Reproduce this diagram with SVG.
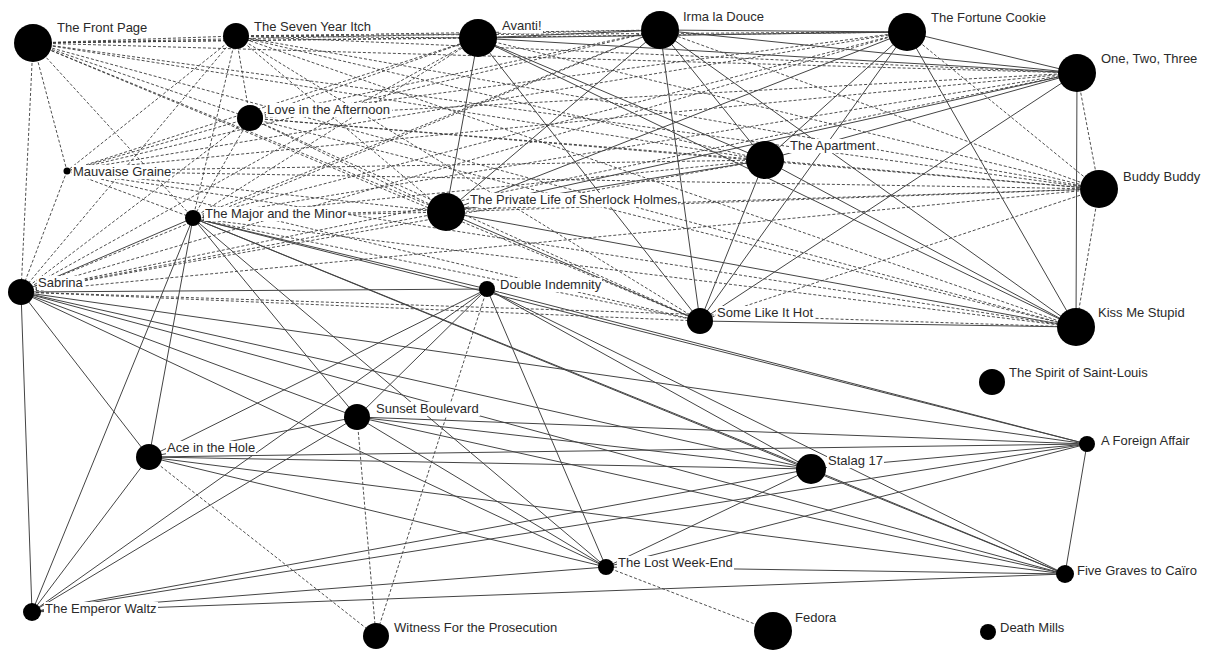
<svg xmlns="http://www.w3.org/2000/svg" width="1210" height="650" viewBox="0 0 1210 650">
<style>
.bg{fill:#ffffff}
.d line{stroke:#3a3a3a;stroke-width:0.9;stroke-dasharray:3 2;fill:none}
.s line{stroke:#444;stroke-width:1;fill:none}
.n circle{fill:#000}
.n rect{fill:#ffffff}
.n text{font-family:"Liberation Sans",Arial,sans-serif;font-size:13px;fill:#2a2a2a}
</style>
<rect class="bg" x="0" y="0" width="1210" height="650"/>
<g id="connectors">
<g class="d">
<line x1="33" y1="43" x2="236" y2="36"/><line x1="33" y1="43" x2="250" y2="118"/><line x1="33" y1="43" x2="67" y2="171"/><line x1="33" y1="43" x2="193" y2="218"/><line x1="33" y1="43" x2="21" y2="292"/><line x1="33" y1="43" x2="1099" y2="189"/>
<line x1="236" y1="36" x2="250" y2="118"/><line x1="236" y1="36" x2="67" y2="171"/><line x1="236" y1="36" x2="193" y2="218"/><line x1="236" y1="36" x2="21" y2="292"/><line x1="236" y1="36" x2="1099" y2="189"/>
<line x1="250" y1="118" x2="67" y2="171"/><line x1="250" y1="118" x2="193" y2="218"/><line x1="250" y1="118" x2="21" y2="292"/><line x1="250" y1="118" x2="1099" y2="189"/>
<line x1="67" y1="171" x2="193" y2="218"/><line x1="67" y1="171" x2="21" y2="292"/><line x1="67" y1="171" x2="1099" y2="189"/>
<line x1="193" y1="218" x2="1099" y2="189"/><line x1="21" y1="292" x2="1099" y2="189"/>
<line x1="33" y1="43" x2="478" y2="38"/><line x1="33" y1="43" x2="660" y2="30"/><line x1="33" y1="43" x2="907" y2="32"/><line x1="33" y1="43" x2="1077" y2="73"/><line x1="33" y1="43" x2="765" y2="160"/><line x1="33" y1="43" x2="446" y2="212"/><line x1="33" y1="43" x2="700" y2="321"/><line x1="33" y1="43" x2="1076" y2="327"/>
<line x1="236" y1="36" x2="478" y2="38"/><line x1="236" y1="36" x2="660" y2="30"/><line x1="236" y1="36" x2="907" y2="32"/><line x1="236" y1="36" x2="1077" y2="73"/><line x1="236" y1="36" x2="765" y2="160"/><line x1="236" y1="36" x2="446" y2="212"/><line x1="236" y1="36" x2="700" y2="321"/><line x1="236" y1="36" x2="1076" y2="327"/>
<line x1="250" y1="118" x2="478" y2="38"/><line x1="250" y1="118" x2="660" y2="30"/><line x1="250" y1="118" x2="907" y2="32"/><line x1="250" y1="118" x2="1077" y2="73"/><line x1="250" y1="118" x2="765" y2="160"/><line x1="250" y1="118" x2="446" y2="212"/><line x1="250" y1="118" x2="700" y2="321"/><line x1="250" y1="118" x2="1076" y2="327"/>
<line x1="67" y1="171" x2="478" y2="38"/><line x1="67" y1="171" x2="660" y2="30"/><line x1="67" y1="171" x2="907" y2="32"/><line x1="67" y1="171" x2="1077" y2="73"/><line x1="67" y1="171" x2="765" y2="160"/><line x1="67" y1="171" x2="446" y2="212"/><line x1="67" y1="171" x2="700" y2="321"/><line x1="67" y1="171" x2="1076" y2="327"/>
<line x1="193" y1="218" x2="478" y2="38"/><line x1="193" y1="218" x2="660" y2="30"/><line x1="193" y1="218" x2="907" y2="32"/><line x1="193" y1="218" x2="1077" y2="73"/><line x1="193" y1="218" x2="765" y2="160"/><line x1="193" y1="218" x2="446" y2="212"/><line x1="193" y1="218" x2="700" y2="321"/><line x1="193" y1="218" x2="1076" y2="327"/>
<line x1="21" y1="292" x2="478" y2="38"/><line x1="21" y1="292" x2="660" y2="30"/><line x1="21" y1="292" x2="907" y2="32"/><line x1="21" y1="292" x2="1077" y2="73"/><line x1="21" y1="292" x2="765" y2="160"/><line x1="21" y1="292" x2="446" y2="212"/><line x1="21" y1="292" x2="700" y2="321"/><line x1="21" y1="292" x2="1076" y2="327"/>
<line x1="1099" y1="189" x2="478" y2="38"/><line x1="1099" y1="189" x2="660" y2="30"/><line x1="1099" y1="189" x2="907" y2="32"/><line x1="1099" y1="189" x2="1077" y2="73"/><line x1="1099" y1="189" x2="765" y2="160"/><line x1="1099" y1="189" x2="446" y2="212"/><line x1="1099" y1="189" x2="700" y2="321"/><line x1="1099" y1="189" x2="1076" y2="327"/>
<line x1="487" y1="289" x2="376" y2="636"/><line x1="357" y1="417" x2="376" y2="636"/><line x1="149" y1="457" x2="376" y2="636"/><line x1="606" y1="567" x2="773" y2="631"/>
</g>
<g class="s">
<line x1="478" y1="38" x2="660" y2="30"/><line x1="478" y1="38" x2="907" y2="32"/><line x1="478" y1="38" x2="1077" y2="73"/><line x1="478" y1="38" x2="765" y2="160"/><line x1="478" y1="38" x2="446" y2="212"/><line x1="478" y1="38" x2="700" y2="321"/><line x1="478" y1="38" x2="1076" y2="327"/>
<line x1="660" y1="30" x2="907" y2="32"/><line x1="660" y1="30" x2="1077" y2="73"/><line x1="660" y1="30" x2="765" y2="160"/><line x1="660" y1="30" x2="446" y2="212"/><line x1="660" y1="30" x2="700" y2="321"/><line x1="660" y1="30" x2="1076" y2="327"/>
<line x1="907" y1="32" x2="1077" y2="73"/><line x1="907" y1="32" x2="765" y2="160"/><line x1="907" y1="32" x2="446" y2="212"/><line x1="907" y1="32" x2="700" y2="321"/><line x1="907" y1="32" x2="1076" y2="327"/>
<line x1="1077" y1="73" x2="765" y2="160"/><line x1="1077" y1="73" x2="446" y2="212"/><line x1="1077" y1="73" x2="700" y2="321"/><line x1="1077" y1="73" x2="1076" y2="327"/>
<line x1="765" y1="160" x2="446" y2="212"/><line x1="765" y1="160" x2="700" y2="321"/><line x1="765" y1="160" x2="1076" y2="327"/>
<line x1="446" y1="212" x2="700" y2="321"/><line x1="446" y1="212" x2="1076" y2="327"/>
<line x1="700" y1="321" x2="1076" y2="327"/>
<line x1="21" y1="292" x2="193" y2="218"/><line x1="21" y1="292" x2="487" y2="289"/><line x1="21" y1="292" x2="357" y2="417"/><line x1="21" y1="292" x2="149" y2="457"/><line x1="21" y1="292" x2="811" y2="469"/><line x1="21" y1="292" x2="1087" y2="444"/><line x1="21" y1="292" x2="606" y2="567"/><line x1="21" y1="292" x2="1065" y2="574"/><line x1="21" y1="292" x2="32" y2="612"/>
<line x1="193" y1="218" x2="487" y2="289"/><line x1="193" y1="218" x2="357" y2="417"/><line x1="193" y1="218" x2="149" y2="457"/><line x1="193" y1="218" x2="811" y2="469"/><line x1="193" y1="218" x2="1087" y2="444"/><line x1="193" y1="218" x2="606" y2="567"/><line x1="193" y1="218" x2="1065" y2="574"/><line x1="193" y1="218" x2="32" y2="612"/>
<line x1="487" y1="289" x2="357" y2="417"/><line x1="487" y1="289" x2="149" y2="457"/><line x1="487" y1="289" x2="811" y2="469"/><line x1="487" y1="289" x2="1087" y2="444"/><line x1="487" y1="289" x2="606" y2="567"/><line x1="487" y1="289" x2="1065" y2="574"/><line x1="487" y1="289" x2="32" y2="612"/>
<line x1="357" y1="417" x2="149" y2="457"/><line x1="357" y1="417" x2="811" y2="469"/><line x1="357" y1="417" x2="1087" y2="444"/><line x1="357" y1="417" x2="606" y2="567"/><line x1="357" y1="417" x2="1065" y2="574"/><line x1="357" y1="417" x2="32" y2="612"/>
<line x1="149" y1="457" x2="811" y2="469"/><line x1="149" y1="457" x2="1087" y2="444"/><line x1="149" y1="457" x2="606" y2="567"/><line x1="149" y1="457" x2="1065" y2="574"/><line x1="149" y1="457" x2="32" y2="612"/>
<line x1="811" y1="469" x2="1087" y2="444"/><line x1="811" y1="469" x2="606" y2="567"/><line x1="811" y1="469" x2="1065" y2="574"/><line x1="811" y1="469" x2="32" y2="612"/>
<line x1="1087" y1="444" x2="606" y2="567"/><line x1="1087" y1="444" x2="1065" y2="574"/><line x1="1087" y1="444" x2="32" y2="612"/>
<line x1="606" y1="567" x2="1065" y2="574"/><line x1="606" y1="567" x2="32" y2="612"/>
<line x1="1065" y1="574" x2="32" y2="612"/>
</g>
</g>
<g id="n-fp" class="n"><circle cx="33" cy="43" r="19"/><rect x="56" y="21" width="92" height="14"/><text x="57" y="32">The Front Page</text></g>
<g id="n-syi" class="n"><circle cx="236" cy="36" r="13"/><rect x="253" y="20" width="121" height="14"/><text x="254" y="31">The Seven Year Itch</text></g>
<g id="n-av" class="n"><circle cx="478" cy="38" r="19"/><rect x="501" y="19" width="42" height="14"/><text x="502" y="30">Avanti!</text></g>
<g id="n-ir" class="n"><circle cx="660" cy="30" r="19"/><rect x="682" y="10" width="83" height="14"/><text x="683" y="21">Irma la Douce</text></g>
<g id="n-fc" class="n"><circle cx="907" cy="32" r="19"/><rect x="930" y="11" width="117" height="14"/><text x="931" y="22">The Fortune Cookie</text></g>
<g id="n-ott" class="n"><circle cx="1077" cy="73" r="19"/><rect x="1100" y="52" width="100" height="14"/><text x="1101" y="63">One, Two, Three</text></g>
<g id="n-lia" class="n"><circle cx="250" cy="118" r="13"/><rect x="266" y="103" width="126" height="14"/><text x="267" y="114">Love in the Afternoon</text></g>
<g id="n-mg" class="n"><circle cx="67" cy="171" r="3.5"/><rect x="72" y="165" width="100" height="14"/><text x="73" y="176">Mauvaise Graine</text></g>
<g id="n-apt" class="n"><circle cx="765" cy="160" r="19"/><rect x="789" y="139" width="88" height="14"/><text x="790" y="150">The Apartment</text></g>
<g id="n-bb" class="n"><circle cx="1099" cy="189" r="19"/><rect x="1122" y="170" width="79" height="14"/><text x="1123" y="181">Buddy Buddy</text></g>
<g id="n-mm" class="n"><circle cx="193" cy="218" r="8"/><rect x="204" y="207" width="144" height="14"/><text x="205" y="218">The Major and the Minor</text></g>
<g id="n-pl" class="n"><circle cx="446" cy="212" r="19"/><rect x="469" y="193" width="209" height="14"/><text x="470" y="204">The Private Life of Sherlock Holmes</text></g>
<g id="n-sab" class="n"><circle cx="21" cy="292" r="13"/><rect x="37" y="276" width="47" height="14"/><text x="38" y="287">Sabrina</text></g>
<g id="n-di" class="n"><circle cx="487" cy="289" r="8"/><rect x="499" y="278" width="103" height="14"/><text x="500" y="289">Double Indemnity</text></g>
<g id="n-slih" class="n"><circle cx="700" cy="321" r="13"/><rect x="716" y="306" width="98" height="14"/><text x="717" y="317">Some Like It Hot</text></g>
<g id="n-kms" class="n"><circle cx="1076" cy="327" r="19"/><rect x="1097" y="306" width="89" height="14"/><text x="1098" y="317">Kiss Me Stupid</text></g>
<g id="n-sp" class="n"><circle cx="992" cy="382" r="13"/><rect x="1008" y="366" width="138" height="14"/><text x="1009" y="377">The Spirit of Saint-Louis</text></g>
<g id="n-sun" class="n"><circle cx="357" cy="417" r="13"/><rect x="375" y="402" width="105" height="14"/><text x="376" y="413">Sunset Boulevard</text></g>
<g id="n-ace" class="n"><circle cx="149" cy="457" r="13"/><rect x="166" y="441" width="90" height="14"/><text x="167" y="452">Ace in the Hole</text></g>
<g id="n-sta" class="n"><circle cx="811" cy="469" r="15"/><rect x="827" y="454" width="57" height="14"/><text x="828" y="465">Stalag 17</text></g>
<g id="n-afa" class="n"><circle cx="1087" cy="444" r="8"/><rect x="1100" y="434" width="92" height="14"/><text x="1101" y="445">A Foreign Affair</text></g>
<g id="n-lwe" class="n"><circle cx="606" cy="567" r="8"/><rect x="617" y="556" width="117" height="14"/><text x="618" y="567">The Lost Week-End</text></g>
<g id="n-fg" class="n"><circle cx="1065" cy="574" r="9"/><rect x="1076" y="564" width="122" height="14"/><text x="1077" y="575">Five Graves to Caïro</text></g>
<g id="n-ew" class="n"><circle cx="32" cy="612" r="9"/><rect x="44" y="602" width="114" height="14"/><text x="45" y="613">The Emperor Waltz</text></g>
<g id="n-wit" class="n"><circle cx="376" cy="636" r="13"/><rect x="393" y="621" width="165" height="14"/><text x="394" y="632">Witness For the Prosecution</text></g>
<g id="n-fed" class="n"><circle cx="773" cy="631" r="19"/><rect x="794" y="611" width="43" height="14"/><text x="795" y="622">Fedora</text></g>
<g id="n-dm" class="n"><circle cx="988" cy="632" r="8"/><rect x="999" y="621" width="66" height="14"/><text x="1000" y="632">Death Mills</text></g>
</svg>
